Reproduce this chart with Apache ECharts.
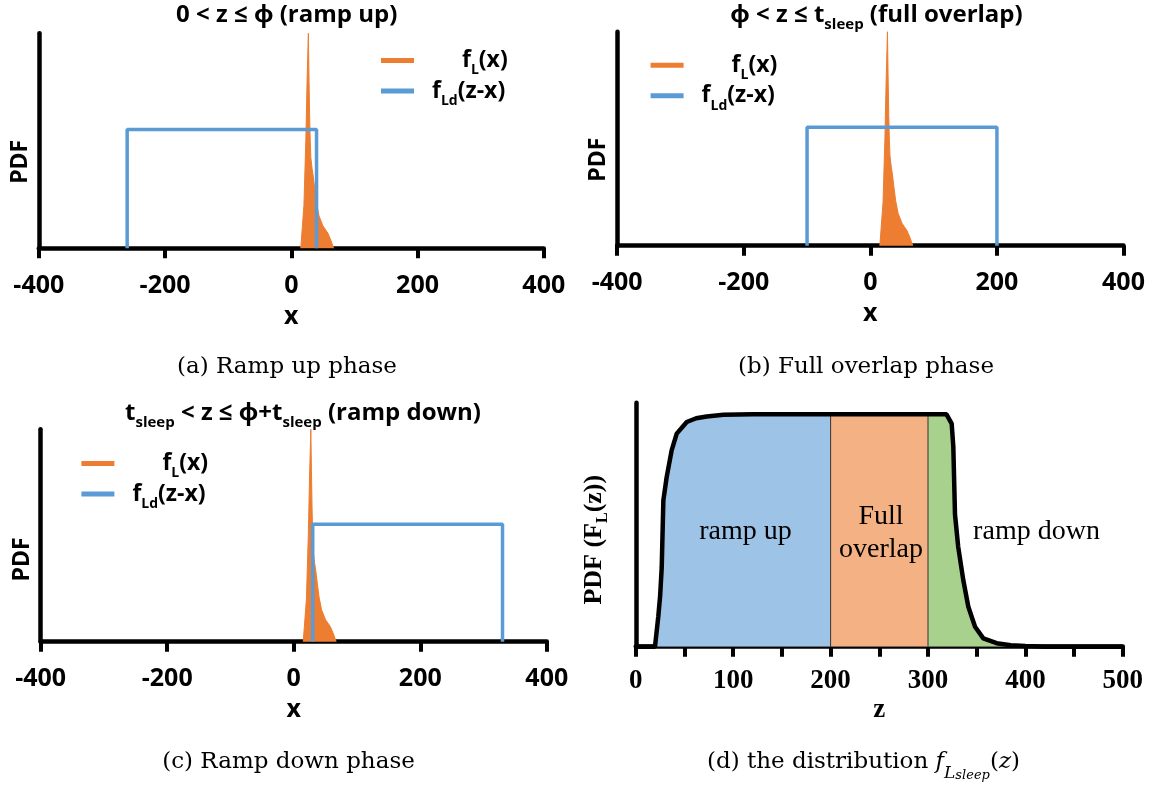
<!DOCTYPE html>
<html><head><meta charset="utf-8">
<script src="https://cdn.jsdelivr.net/npm/echarts@6/dist/echarts.min.js"></script>
<style>html,body{margin:0;padding:0;background:#fff}#c{width:1163px;height:785px}</style>
</head><body><div id="c"></div>
<script>
// ---- data ----
const xTickLabels = [-400, -200, 0, 200, 400];
const zTickLabels = [0, 100, 200, 300, 400, 500];
// f_L(x) shape (orange)
const fLx = [15, 18, 20, 23, 25, 27, 28, 29, 30, 31, 33, 35, 37, 40, 44, 50, 58, 63, 67];
const fLy = [0, 0, 0.2, 0.5, 0.78, 1.0, 0.8, 0.62, 0.5, 0.42, 0.37, 0.33, 0.28, 0.21, 0.15, 0.105, 0.07, 0.035, 0];
// f_Ld(z-x) rectangle (blue)
const ldHeight = 0.553;
const ldRampUp = [-260, 40];
const ldFullOverlap = [-100, 200];
const ldRampDown = [30, 330];
// panel (d) distribution
const zVals = [0, 15, 19.7, 21, 23.1, 25, 26.6, 28.3, 31.7, 36.8, 42, 52.3, 62, 72.8, 90, 120, 200, 300, 319, 324.3, 326, 327.7, 331, 336.2, 341.4, 348.3, 356.8, 370.5, 385, 400, 420, 500];
const pdfVals = [0, 0, 0, 0.05, 0.13, 0.22, 0.34, 0.63, 0.73, 0.845, 0.917, 0.967, 0.983, 0.991, 0.998, 1, 1, 1, 1, 0.96, 0.86, 0.57, 0.43, 0.287, 0.172, 0.086, 0.036, 0.015, 0.006, 0.003, 0, 0];
const phaseBounds = [0, 200, 300, 500];
const phaseNames = ['ramp up', 'Full\noverlap', 'ramp down'];

// ---- styles ----
const SANS = "'Open Sans','Noto Sans',sans-serif";
const SERIF = "'Liberation Serif','DejaVu Serif',serif";
const CAPSERIF = "'DejaVu Serif','Liberation Serif',serif";
const ORANGE = '#ED7D31', BLUE = '#5B9BD5';
const AREA_COLORS = ['#9DC3E6', '#F4B183', '#A9D18E'];

const chart = echarts.init(document.getElementById('c'), null, {renderer: 'canvas'});

const grids = [
  {left: 38.8, top: 33.3, width: 505, height: 215},
  {left: 617.2, top: 31.7, width: 506.3, height: 214},
  {left: 40.7, top: 429.3, width: 506.1, height: 212.4},
  {left: 635.8, top: 402.7, width: 487, height: 244}
];

function xAxisSans(gi) {
  return {
    type: 'value', gridIndex: gi,
    min: xTickLabels[0], max: xTickLabels[xTickLabels.length - 1],
    interval: xTickLabels[1] - xTickLabels[0],
    axisLine: {show: true, onZero: false, lineStyle: {color: '#000', width: 4.5}},
    axisTick: {show: true, length: 10, lineStyle: {color: '#000', width: 4}},
    axisLabel: {color: '#000', fontFamily: SANS, fontWeight: 'bold', fontSize: 25, margin: 25},
    splitLine: {show: false},
    name: 'x', nameLocation: 'middle', nameGap: 56,
    nameTextStyle: {color: '#000', fontFamily: SANS, fontWeight: 'bold', fontSize: 25}
  };
}
function yAxisSans(gi, shift) {
  return {
    type: 'value', gridIndex: gi, min: 0, max: 1,
    axisLine: {show: true, onZero: false, lineStyle: {color: '#000', width: 4.5}},
    axisTick: {show: false}, axisLabel: {show: false}, splitLine: {show: false},
    name: 'PDF', nameLocation: 'middle', nameGap: 7, nameRotate: 90,
    nameTextStyle: {color: '#000', fontFamily: SANS, fontWeight: 'bold', fontSize: 23, padding: [0, shift, 0, 0]}
  };
}

const xAxes = [xAxisSans(0), xAxisSans(1), xAxisSans(2), {
  type: 'value', gridIndex: 3, min: zTickLabels[0], max: zTickLabels[zTickLabels.length - 1], interval: 50,
  axisLine: {show: true, onZero: false, lineStyle: {color: '#000', width: 4.5}},
  axisTick: {show: true, length: 10, lineStyle: {color: '#000', width: 4}},
  axisLabel: {color: '#000', fontFamily: SERIF, fontWeight: 'bold', fontSize: 27, margin: 21,
    formatter: v => zTickLabels.includes(v) ? String(v) : ''},
  splitLine: {show: false},
  name: 'z', nameLocation: 'middle', nameGap: 50,
  nameTextStyle: {color: '#000', fontFamily: SERIF, fontWeight: 'bold', fontSize: 27}
}];
const yAxes = [yAxisSans(0, 42), yAxisSans(1, 42), yAxisSans(2, 48), {
  type: 'value', gridIndex: 3, min: 0, max: 1.05,
  axisLine: {show: true, onZero: false, lineStyle: {color: '#000', width: 4.5}},
  axisTick: {show: false}, axisLabel: {show: false}, splitLine: {show: false},
  name: '{a|PDF (F}{s|L}{a|(z))}', nameLocation: 'middle', nameGap: 25, nameRotate: 90,
  nameTextStyle: {color: '#000', fontFamily: SERIF, fontWeight: 'bold', fontSize: 26, padding: [0, 30, 0, 0],
    rich: {
      a: {fontFamily: SERIF, fontWeight: 'bold', fontSize: 26, lineHeight: 34, color: '#000'},
      s: {fontFamily: SERIF, fontWeight: 'bold', fontSize: 16, lineHeight: 18, verticalAlign: 'bottom', color: '#000'}
    }}
}];

const fLData = fLx.map((x, i) => [x, fLy[i]]);
function rectData(edges) {
  return [[edges[0], 0], [edges[0], ldHeight], [edges[1], ldHeight], [edges[1], 0]];
}
const series = [];
[ldRampUp, ldFullOverlap, ldRampDown].forEach((edges, gi) => {
  series.push({
    name: 'fL', type: 'line', xAxisIndex: gi, yAxisIndex: gi, data: fLData,
    symbol: 'none', color: ORANGE, lineStyle: {color: ORANGE, width: 1},
    itemStyle: {color: ORANGE}, areaStyle: {color: ORANGE, opacity: 1}, z: 2, silent: true
  });
  series.push({
    name: 'fLd', type: 'line', xAxisIndex: gi, yAxisIndex: gi, data: rectData(edges),
    symbol: 'none', color: BLUE, lineStyle: {color: BLUE, width: 3.5},
    itemStyle: {color: BLUE}, z: 3, silent: true
  });
});

// panel (d)
const dData = zVals.map((z, i) => [z, pdfVals[i]]);
for (let p = 0; p < 3; p++) {
  const lo = phaseBounds[p], hi = phaseBounds[p + 1];
  series.push({
    type: 'line', xAxisIndex: 3, yAxisIndex: 3,
    data: dData.filter(d => d[0] >= lo && d[0] <= hi),
    symbol: 'none', lineStyle: {width: 0}, areaStyle: {color: AREA_COLORS[p], opacity: 1}, z: 2, silent: true
  });
}
[phaseBounds[1], phaseBounds[2]].forEach(b => {
  const v = pdfVals[zVals.indexOf(b)];
  series.push({
    type: 'line', xAxisIndex: 3, yAxisIndex: 3, data: [[b, 0], [b, v]],
    symbol: 'none', lineStyle: {color: '#333', width: 1}, z: 3, silent: true
  });
});
series.push({
  type: 'line', xAxisIndex: 3, yAxisIndex: 3, data: dData,
  symbol: 'none', lineStyle: {color: '#000', width: 4.5}, z: 4, silent: true
});

// legends
const legRich = {
  sp1: {width: 43, fontSize: 23, lineHeight: 34},
  sp2: {width: 13, fontSize: 23, lineHeight: 34},
  t: {fontFamily: SANS, fontWeight: 'bold', fontSize: 23, lineHeight: 34, color: '#000'},
  s: {fontFamily: SANS, fontWeight: 'bold', fontSize: 14, lineHeight: 18, verticalAlign: 'bottom', color: '#000'}
};
function legend(left, top) {
  return {
    left: left, top: top, orient: 'vertical', itemGap: 2, padding: 0,
    itemWidth: 33, itemHeight: 5, selectedMode: false,
    data: [{name: 'fL', icon: 'rect'}, {name: 'fLd', icon: 'rect'}],
    formatter: n => n === 'fL' ? '{sp1| }{t|f}{s|L}{t|(x)}' : '{sp2| }{t|f}{s|Ld}{t|(z-x)}',
    textStyle: {rich: legRich}
  };
}

// texts
const titleRich = {
  t: {fontFamily: SANS, fontWeight: 'bold', fontSize: 24, lineHeight: 34, color: '#000'},
  s: {fontFamily: SANS, fontWeight: 'bold', fontSize: 15, lineHeight: 18, verticalAlign: 'bottom', color: '#000'}
};
function txt(x, y, text, rich) {
  return {type: 'text', x: x, y: y, z: 100, silent: true,
    style: {text: text, rich: rich, align: 'center', verticalAlign: 'middle'}};
}
function plain(x, y, text, font, size, weight) {
  return {type: 'text', x: x, y: y, z: 100, silent: true,
    style: {text: text, fontFamily: font, fontSize: size, fontWeight: weight || 'normal', fill: '#000',
      align: 'center', verticalAlign: 'middle', lineHeight: size * 1.2}};
}
const capRich = {
  c: {fontFamily: CAPSERIF, fontSize: 23, lineHeight: 40, color: '#000'},
  i: {fontFamily: CAPSERIF, fontStyle: 'italic', fontSize: 23, lineHeight: 40, color: '#000'},
  s: {fontFamily: CAPSERIF, fontStyle: 'italic', fontSize: 17, lineHeight: 30, verticalAlign: 'bottom', color: '#000'},
  ss: {fontFamily: CAPSERIF, fontStyle: 'italic', fontSize: 13, lineHeight: 8, verticalAlign: 'bottom', color: '#000'}
};

const graphic = [
  txt(286.7, 15, '{t|0 < z ≤ ϕ (ramp up)}', titleRich),
  txt(876.5, 15, '{t|ϕ < z ≤ t}{s|sleep}{t| (full overlap)}', titleRich),
  txt(303, 413.3, '{t|t}{s|sleep}{t| < z ≤ ϕ+t}{s|sleep}{t| (ramp down)}', titleRich),
  plain(287, 367, '(a) Ramp up phase', CAPSERIF, 23),
  plain(866, 367, '(b) Full overlap phase', CAPSERIF, 23),
  plain(288.5, 761.7, '(c) Ramp down phase', CAPSERIF, 23),
  txt(863.5, 761.7, '{c|(d) the distribution }{i|f}{s|L}{ss|sleep}{c|(}{i|z}{c|)}', capRich),
  plain(745.4, 531.7, phaseNames[0], SERIF, 28),
  plain(881, 533.3, phaseNames[1], SERIF, 28),
  plain(1036.5, 531.7, phaseNames[2], SERIF, 28)
];

chart.setOption({
  backgroundColor: '#fff',
  animation: false,
  grid: grids.map(g => Object.assign({containLabel: false}, g)),
  xAxis: xAxes, yAxis: yAxes,
  legend: [legend(381, 49), legend(650.6, 53.7), legend(81.4, 452)],
  series: series,
  graphic: graphic
});
</script></body></html>
